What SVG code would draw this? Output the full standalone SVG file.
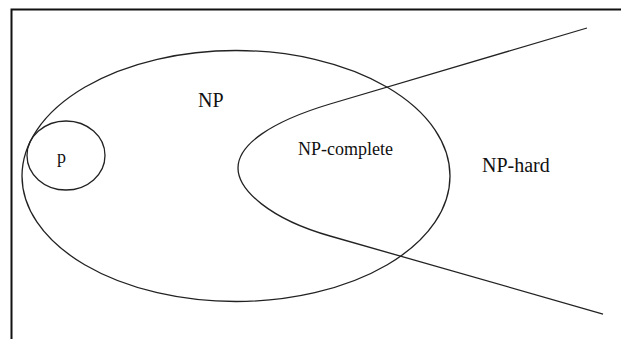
<svg xmlns="http://www.w3.org/2000/svg" width="621" height="339" viewBox="0 0 621 339">
<style>
.frame{fill:none;stroke:#111;stroke-width:2}
.shape{fill:none;stroke:#222;stroke-width:1.3}
.lbl{font-family:"Liberation Serif","Times New Roman",serif;fill:#111}
</style>
<rect width="621" height="339" fill="#fff"/>
<path class="frame" d="M11.5,339 V9.5 H621"/>
<g id="np">
<ellipse class="shape" cx="236" cy="176" rx="214" ry="125.5"/>
<text class="lbl" x="198" y="107" font-size="20">NP</text>
</g>
<g id="p">
<ellipse class="shape" cx="66" cy="155.5" rx="39" ry="34.5"/>
<text class="lbl" x="57" y="163" font-size="18">p</text>
</g>
<g id="np-complete">
<text class="lbl" x="298" y="155" font-size="18">NP-complete</text>
</g>
<g id="np-hard">
<path class="shape" d="M587,28 L330,104 C270,122 238,145 238,168 C238,190 270,219 330,236 L603,314"/>
<text class="lbl" x="482" y="172" font-size="20">NP-hard</text>
</g>
</svg>
